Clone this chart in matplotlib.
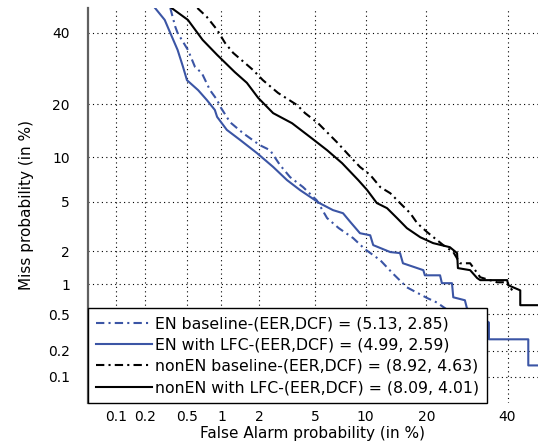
import numpy as np
import matplotlib
matplotlib.use("Agg")
import matplotlib.pyplot as plt
from statistics import NormalDist

# DET curve data (percent)
en_base_fa = [0.35, 0.39, 0.41, 0.51, 0.59, 0.68, 0.80, 0.92, 0.98, 1.18, 1.50, 2.03, 2.42, 2.86,
              3.37, 4.14, 5.1, 5.93, 7.0, 8.5, 9.9, 12.0, 13.9, 16.3, 20.2, 22.2, 26.0]
en_base_miss = [48.1, 42.0, 40.0, 34.7, 29.7, 27.9, 23.4, 21.0, 19.4, 16.1, 14.0, 11.9, 11.1, 8.95,
                7.45, 6.35, 5.1, 3.74, 3.11, 2.58, 2.08, 1.66, 1.26, 0.93, 0.73, 0.66, 0.5]

en_lfc_fa = [0.25, 0.31, 0.35, 0.41, 0.46, 0.50, 0.63, 0.75, 0.88, 0.92, 1.11, 1.42, 1.93, 2.55,
             3.21, 3.95, 5.3, 6.45, 7.42, 8.2, 9.3, 10.6, 11.0, 13.5, 15.1, 15.6, 19.4, 19.7,
             22.9, 23.3, 25.6, 25.9, 28.7, 29.2, 34.9, 34.9, 45.9, 45.9, 50.0]
en_lfc_miss = [48.1, 44.2, 40.0, 34.7, 29.7, 26.0, 23.4, 21.0, 18.7, 17.2, 14.6, 12.8, 10.65, 8.7,
               7.1, 6.05, 4.87, 4.31, 4.08, 3.48, 2.83, 2.72, 2.25, 1.96, 1.92, 1.56, 1.35, 1.21,
               1.21, 1.02, 1.02, 0.744, 0.695, 0.577, 0.41, 0.27, 0.27, 0.136, 0.136]

nonen_base_fa = [0.62, 0.75, 0.92, 1.07, 1.25, 1.80, 2.14, 2.77, 3.77, 4.27, 5.2, 6.82, 8.2, 9.3,
                 10.6, 12.0, 13.5, 15.1, 16.9, 18.2, 20.2, 23.6, 25.9, 27.5, 30.0, 32.6, 37.1,
                 39.9, 41.3]
nonen_base_miss = [48.1, 45.2, 41.0, 36.9, 33.8, 28.8, 26.0, 22.7, 19.8, 18.0, 15.9, 12.4, 10.1, 8.7,
                   7.7, 6.35, 5.75, 4.87, 4.08, 3.41, 2.88, 2.25, 1.96, 1.56, 1.56, 1.16, 1.04,
                   1.04, 0.87]

nonen_lfc_fa = [0.36, 0.51, 0.69, 0.92, 1.29, 1.61, 1.97, 2.55, 3.48, 4.61, 5.93, 7.33, 9.1, 10.2,
                11.5, 13.0, 14.6, 16.3, 18.8, 21.4, 25.1, 26.8, 27.0, 30.0, 31.8, 32.6, 39.9, 40.2,
                43.6, 43.6, 50.0]
nonen_lfc_miss = [48.1, 44.2, 37.8, 33.2, 28.2, 25.3, 21.5, 18.0, 15.9, 13.3, 11.1, 9.2, 7.1, 6.05,
                  4.87, 4.46, 3.74, 3.11, 2.62, 2.34, 2.16, 1.92, 1.41, 1.35, 1.14, 1.09, 1.09, 0.975,
                  0.87, 0.62, 0.62]

labels = ["EN baseline-(EER,DCF) = (5.13, 2.85)",
          "EN with LFC-(EER,DCF) = (4.99, 2.59)",
          "nonEN baseline-(EER,DCF) = (8.92, 4.63)",
          "nonEN with LFC-(EER,DCF) = (8.09, 4.01)"]

ticks = [0.1, 0.2, 0.5, 1, 2, 5, 10, 20, 40]
tick_labels = ["0.1", "0.2", "0.5", "1", "2", "5", "10", "20", "40"]

_nd = NormalDist()
_ppf = np.vectorize(_nd.inv_cdf, otypes=[float])
_cdf = np.vectorize(_nd.cdf, otypes=[float])


def probit(p):
    p = np.clip(np.asarray(p, dtype=float) / 100.0, 1e-9, 1 - 1e-9)
    return _ppf(p)


def inv_probit(z):
    return _cdf(np.asarray(z, dtype=float)) * 100.0


plt.rcParams["font.family"] = ["DejaVu Sans"]
plt.rcParams["font.size"] = 10

W, H = 538, 444
fig = plt.figure(figsize=(W / 100, H / 100), dpi=100)
ax = fig.add_axes([88 / W, 41 / H, 450 / W, 395 / H])

ax.set_xscale("function", functions=(probit, inv_probit))
ax.set_yscale("function", functions=(probit, inv_probit))

blue = "#3b55a5"
dashdot = (0, (4, 2, 1, 2))
lw = 1.5
ax.plot(en_base_fa, en_base_miss, color=blue, lw=lw, linestyle=dashdot, label=labels[0])
ax.plot(en_lfc_fa, en_lfc_miss, color=blue, lw=lw, label=labels[1])
ax.plot(nonen_base_fa, nonen_base_miss, color="black", lw=lw, linestyle=dashdot, label=labels[2])
ax.plot(nonen_lfc_fa, nonen_lfc_miss, color="black", lw=lw, label=labels[3])

ax.set_xlim(0.0496, 48.7)
ax.set_ylim(0.047, 48.1)
ax.set_xticks(ticks)
ax.set_xticklabels(tick_labels)
ax.set_yticks(ticks)
ax.set_yticklabels(tick_labels)
ax.minorticks_off()
ax.tick_params(axis="x", length=0, pad=5)
ax.tick_params(axis="y", length=0, pad=13)
ax.grid(True, linestyle=(0, (1, 3)), color="black", lw=0.8)
ax.set_axisbelow(True)

for side in ["top", "right", "bottom"]:
    ax.spines[side].set_visible(False)
ax.spines["left"].set_color("#606060")
ax.spines["left"].set_linewidth(1.6)

ax.set_xlabel("False Alarm probability (in %)", fontsize=11)
ax.set_ylabel("Miss probability (in %)", fontsize=11)
ax.xaxis.set_label_coords(0.5, -0.058)
ax.yaxis.set_label_coords(-0.12, 0.5)

leg = ax.legend(loc="lower left", bbox_to_anchor=(0, 0), borderaxespad=0,
                fancybox=False, framealpha=1, edgecolor="black",
                handlelength=3.6, handletextpad=0.15, labelspacing=0.4,
                borderpad=0.5, fontsize=11.3)
leg.get_frame().set_linewidth(1.0)

fig.savefig("out.png", dpi=100)
